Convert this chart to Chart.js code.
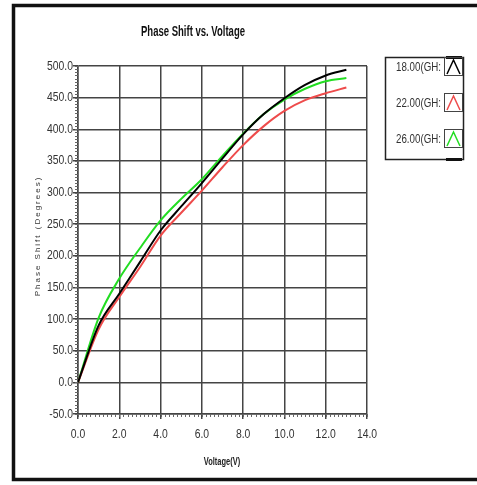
<!doctype html>
<html lang="en">
  <head>
    <meta charset="utf-8">
    <title>Phase Shift vs. Voltage</title>
    <script src="https://cdn.jsdelivr.net/npm/chart.js@4.4.0/dist/chart.umd.min.js"></script>
    <style>
      body {
        margin: 0;
        background-color: #ffffff;
      }
    </style>
  </head>
  <body>
    <canvas id="psGraph" width="477" height="485"></canvas>

  <script>
    // measured phase shift (degrees) against bias voltage, one curve per frequency
    const voltage = [0, 1, 2, 3, 4, 5, 6, 7, 8, 9, 10, 11, 12, 13];
    const phase18 = [0, 90, 140, 190, 240, 278, 315, 354, 392, 424, 449, 470, 485, 494];
    const phase22 = [0, 84, 135, 182, 232, 268, 303, 340, 375, 405, 429, 446, 457, 466];
    const phase26 = [0, 102, 164, 212, 256, 290, 321, 358, 393, 424, 447, 464, 476, 481];
    const seriesNames = ['18.00(GH:', '22.00(GH:', '26.00(GH:'];
    const seriesColors = ['#000000', '#ee4b4b', '#22dd22'];

    const sans = '"Liberation Sans", Arial, sans-serif';

    function toPoints(ys) {
      let pts = [];
      for (let i in voltage) {
        pts.push({ x: voltage[i], y: ys[i] });
      }
      return pts;
    }

    // squeezed text, the plot uses a narrow face everywhere
    function narrowText(ctx, text, x, y, squeeze) {
      ctx.save();
      ctx.translate(x, y);
      ctx.scale(squeeze, 1);
      ctx.fillText(text, 0, 0);
      ctx.restore();
    }

    // frame, titles, tick labels, minor ticks and the legend panel
    const decorations = {
      id: 'decorations',
      beforeDraw(chart) {
        const ctx = chart.ctx;
        ctx.save();
        ctx.fillStyle = '#ffffff';
        ctx.fillRect(0, 0, chart.width, chart.height);
        ctx.restore();
      },
      afterDraw(chart) {
        const ctx = chart.ctx;
        const xs = chart.scales.x;
        const ys = chart.scales.y;
        const area = chart.chartArea;
        ctx.save();

        // minor ticks
        ctx.strokeStyle = '#666';
        ctx.lineWidth = 1;
        ctx.beginPath();
        for (let v = -50; v <= 500; v += 5) {
          const py = Math.round(ys.getPixelForValue(v)) + 0.5;
          ctx.moveTo(area.left - 3, py);
          ctx.lineTo(area.left, py);
        }
        for (let v = 0; v <= 14.001; v += 0.2) {
          const px = Math.round(xs.getPixelForValue(v)) + 0.5;
          ctx.moveTo(px, area.bottom);
          ctx.lineTo(px, area.bottom + 3);
        }
        ctx.stroke();

        // tick labels
        ctx.fillStyle = '#333';
        ctx.font = '13px ' + sans;
        ctx.textBaseline = 'middle';
        ctx.textAlign = 'right';
        for (let t of ys.ticks) {
          narrowText(ctx, t.value.toFixed(1), area.left - 5, ys.getPixelForValue(t.value), 0.8);
        }
        ctx.textAlign = 'center';
        for (let t of xs.ticks) {
          narrowText(ctx, t.value.toFixed(1), xs.getPixelForValue(t.value), area.bottom + 20, 0.8);
        }

        // chart title
        ctx.fillStyle = '#111';
        ctx.font = 'bold 14px ' + sans;
        narrowText(ctx, 'Phase Shift vs. Voltage', 193, 32, 0.68);

        // x axis title
        ctx.fillStyle = '#222';
        ctx.font = 'bold 11px ' + sans;
        narrowText(ctx, 'Voltage(V)', 222, 462, 0.68);

        // y axis title, small and spaced out
        ctx.save();
        ctx.translate(38, 236);
        ctx.rotate(-Math.PI / 2);
        ctx.font = '8px ' + sans;
        ctx.letterSpacing = '2px';
        ctx.fillStyle = '#333';
        ctx.fillText('Phase Shift (Degrees)', 0, 0);
        ctx.restore();

        // legend panel
        ctx.strokeStyle = '#222';
        ctx.lineWidth = 1.5;
        ctx.strokeRect(385.5, 57.5, 78, 102);
        ctx.fillStyle = '#111';
        ctx.fillRect(446, 56, 16, 3);
        ctx.fillRect(446, 158, 16, 3);
        const rowY = [67, 103, 139];
        ctx.font = '13px ' + sans;
        ctx.textAlign = 'right';
        for (let i in seriesNames) {
          const cy = rowY[i];
          ctx.fillStyle = '#333';
          narrowText(ctx, seriesNames[i], 441, cy, 0.75);
          ctx.strokeStyle = '#444';
          ctx.lineWidth = 1;
          ctx.strokeRect(444.5, cy - 9.5, 18, 18);
          ctx.strokeStyle = seriesColors[i];
          ctx.lineWidth = 1.5;
          ctx.beginPath();
          ctx.moveTo(447, cy + 7);
          ctx.lineTo(453.5, cy - 7);
          ctx.lineTo(460, cy + 7);
          ctx.stroke();
        }

        // outer frame
        ctx.strokeStyle = '#111';
        ctx.lineWidth = 3.5;
        ctx.strokeRect(13.5, 5.5, 475, 474);
        ctx.restore();
      }
    };

    const psData = {
      datasets: [
        {
          label: seriesNames[0],
          data: toPoints(phase18),
          borderColor: seriesColors[0],
          backgroundColor: seriesColors[0],
          borderWidth: 2,
          pointRadius: 0,
          cubicInterpolationMode: 'monotone'
        },
        {
          label: seriesNames[1],
          data: toPoints(phase22),
          borderColor: seriesColors[1],
          backgroundColor: seriesColors[1],
          borderWidth: 2,
          pointRadius: 0,
          cubicInterpolationMode: 'monotone'
        },
        {
          label: seriesNames[2],
          data: toPoints(phase26),
          borderColor: seriesColors[2],
          backgroundColor: seriesColors[2],
          borderWidth: 2,
          pointRadius: 0,
          cubicInterpolationMode: 'monotone'
        }
      ]
    };

    const config = {
      type: 'line',
      data: psData,
      options: {
        responsive: false,
        animation: false,
        layout: {
          padding: { left: 0, right: 110, top: 66, bottom: 0 }
        },
        plugins: {
          legend: { display: false },
          title: { display: false },
          tooltip: { enabled: false }
        },
        scales: {
          x: {
            type: 'linear',
            min: 0,
            max: 14,
            afterFit: function(scale) { scale.height = 71; },
            ticks: { stepSize: 2, display: false },
            grid: { color: '#444', lineWidth: 1.5, tickLength: 5 },
            border: { color: '#444', width: 1.5 }
          },
          y: {
            min: -50,
            max: 500,
            afterFit: function(scale) { scale.width = 78; },
            ticks: { stepSize: 50, display: false },
            grid: { color: '#444', lineWidth: 1.5, tickLength: 5 },
            border: { color: '#444', width: 1.5 }
          }
        }
      },
      plugins: [decorations]
    };

    let psGraph = document.getElementById('psGraph');
    let renderPsGraph = new Chart(psGraph, config);
  </script>
  </body>
</html>
